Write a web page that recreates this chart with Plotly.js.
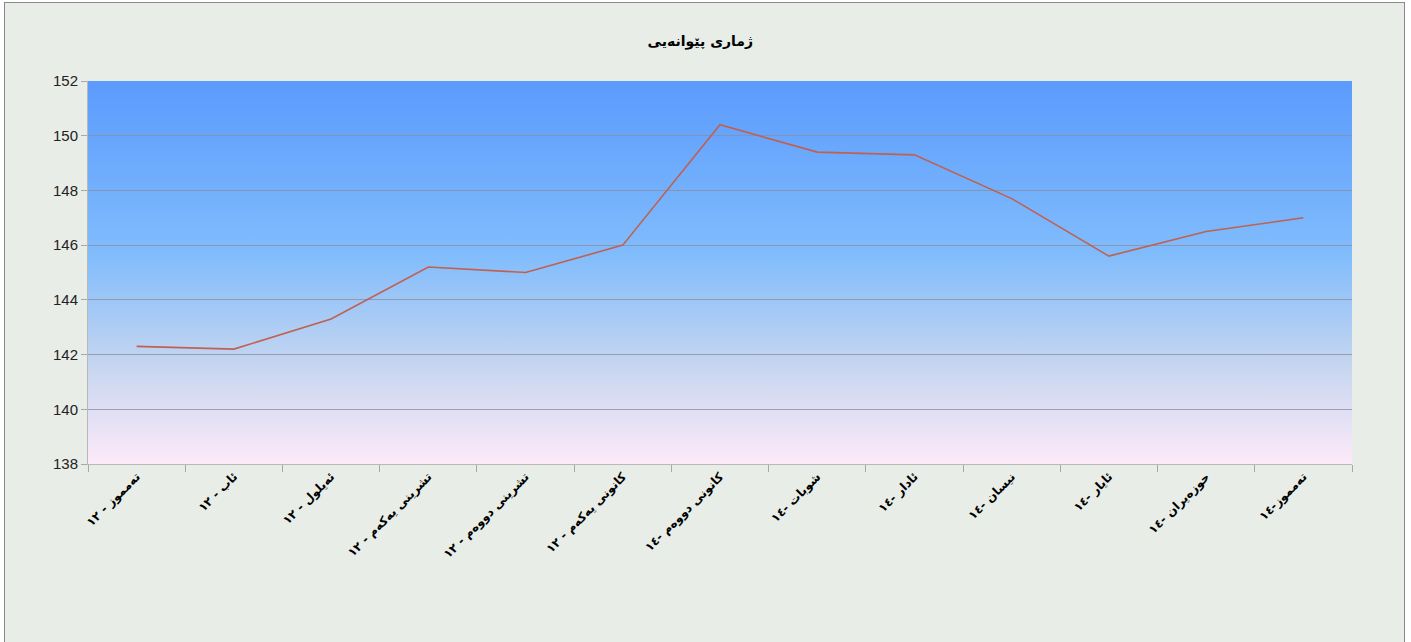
<!DOCTYPE html>
<html>
<head>
<meta charset="utf-8">
<script src="https://cdn.plot.ly/plotly-3.0.1.min.js"></script>
<style>
  html, body { margin: 0; padding: 0; background: #ffffff; overflow: hidden; }
  #frame { position: absolute; left: 4px; top: 2px; width: 1399px; height: 650px;
           border: 1px solid #8a8a8a; background: #e8ede7; }
  #chart { width: 1399px; height: 640px; }
</style>
</head>
<body>
<div id="frame"><div id="chart"></div></div>
<script>
const chartTitle = 'ژماری پێوانەیی';
const categories = [
  'تەمموز - ١٢',
  'ئاب - ١٢',
  'ئەیلول - ١٢',
  'تشرینی یەکەم - ١٢',
  'تشرینی دووەم - ١٢',
  'کانونی یەکەم - ١٢',
  'کانونی دووەم -١٤',
  'شوبات -١٤',
  'ئادار -١٤',
  'نیسان -١٤',
  'ئایار -١٤',
  'حوزەیران -١٤',
  'تەمموز-١٤'
];
const values = [142.3, 142.2, 143.3, 145.2, 145.0, 146.0, 150.4, 149.4, 149.3, 147.7, 145.6, 146.5, 147.0];
const yTicks = [138, 140, 142, 144, 146, 148, 150, 152];

const gradSvg = '<svg xmlns="http://www.w3.org/2000/svg" width="100" height="100" preserveAspectRatio="none">' +
  '<defs><linearGradient id="g" x1="0" y1="0" x2="0" y2="1">' +
  '<stop offset="0" stop-color="rgb(91,155,253)"/>' +
  '<stop offset="0.45" stop-color="rgb(128,188,252)"/>' +
  '<stop offset="0.75" stop-color="rgb(200,214,240)"/>' +
  '<stop offset="1" stop-color="rgb(253,234,249)"/>' +
  '</linearGradient></defs><rect width="100" height="100" fill="url(#g)"/></svg>';
const gradUri = 'data:image/svg+xml;base64,' + btoa(gradSvg);

const trace = {
  type: 'scatter',
  mode: 'lines',
  x: categories,
  y: values,
  line: { color: 'rgb(192,96,80)', width: 1.6 },
  hoverinfo: 'x+y'
};

const layout = {
  width: 1399,
  height: 640,
  margin: { l: 83, r: 52, t: 78, b: 179 },
  paper_bgcolor: '#e8ede7',
  plot_bgcolor: 'rgba(0,0,0,0)',
  showlegend: false,
  title: {
    text: chartTitle,
    x: 0.497, xanchor: 'center',
    y: 0.94, yanchor: 'middle',
    font: { family: 'DejaVu Sans', size: 14, color: '#000', weight: 'bold' }
  },
  images: [{
    source: gradUri, xref: 'paper', yref: 'paper', x: 0, y: 1,
    sizex: 1, sizey: 1, xanchor: 'left', yanchor: 'top',
    sizing: 'stretch', layer: 'below'
  }],
  xaxis: {
    type: 'category',
    tickson: 'boundaries',
    ticks: 'outside', ticklen: 7, tickcolor: '#a8a8a8', tickwidth: 1,
    showline: true, linecolor: '#b8b8b8', linewidth: 1,
    showgrid: false,
    tickangle: -45,
    tickfont: { family: 'DejaVu Sans', size: 12, color: '#000', weight: 'bold' },
    range: [-0.5, 12.5],
    fixedrange: true
  },
  yaxis: {
    range: [138, 152],
    tickvals: yTicks,
    ticktext: yTicks.map(String),
    ticks: 'outside', ticklen: 6, tickcolor: '#a8a8a8',
    showgrid: true, gridcolor: 'rgba(140,140,150,0.75)', gridwidth: 1,
    zeroline: false,
    showline: true, linecolor: '#b8b8b8',
    tickfont: { family: 'Liberation Sans', size: 15, color: '#222' },
    fixedrange: true
  }
};

Plotly.newPlot('chart', [trace], layout, { displayModeBar: false, staticPlot: true });
</script>
</body>
</html>
